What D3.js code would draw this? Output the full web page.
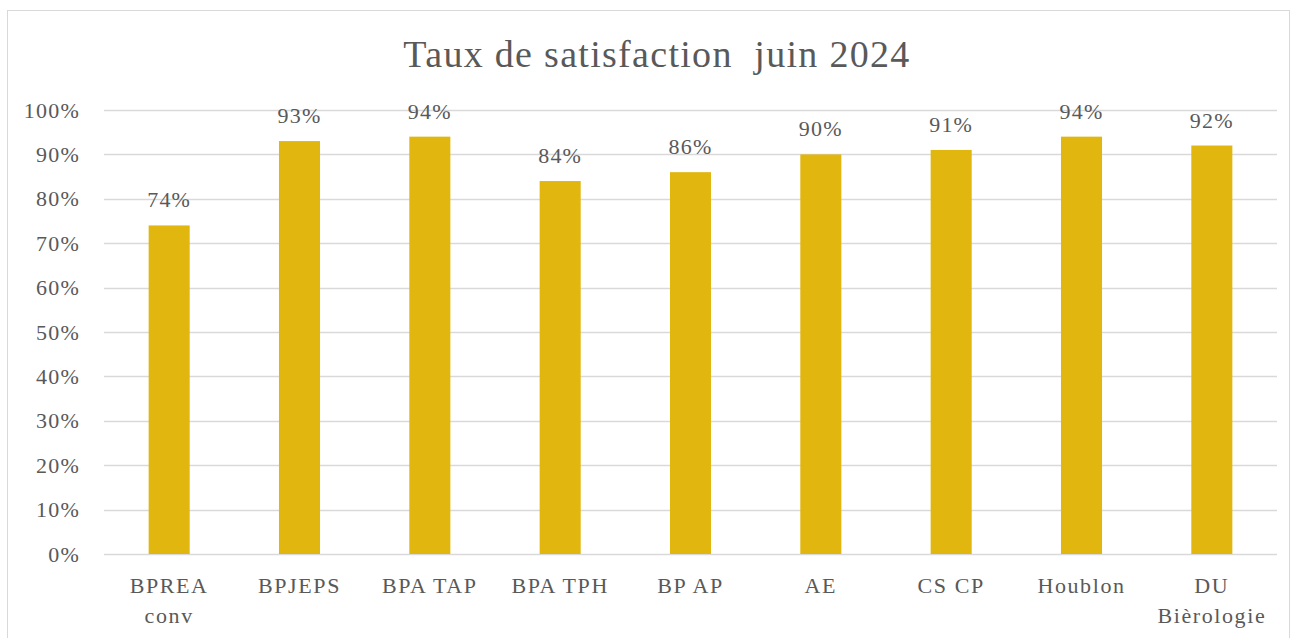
<!DOCTYPE html>
<html><head><meta charset="utf-8">
<script src="https://cdn.jsdelivr.net/npm/d3@7"></script>
<style>body{margin:0;background:#fff}svg{display:block}text{white-space:pre}</style>
</head><body>
<script>
const categories = [["BPREA","conv"],["BPJEPS"],["BPA TAP"],["BPA TPH"],["BP AP"],["AE"],["CS CP"],["Houblon"],["DU","Bièrologie"]];
const values = [0.74,0.93,0.94,0.84,0.86,0.90,0.91,0.94,0.92];
const yTicks = [0,0.1,0.2,0.3,0.4,0.5,0.6,0.7,0.8,0.9,1.0];
const title = "Taux de satisfaction  juin 2024";

const W=1293,H=638;
const font="'Liberation Serif','DejaVu Serif',serif";
const txt="#595959";
const svg=d3.select("body").append("svg").attr("width",W).attr("height",H);
svg.append("rect").attr("x",7.5).attr("y",10.5).attr("width",1282).attr("height",640).attr("fill","#fff").attr("stroke","#d9d9d9");
svg.append("text").attr("x",657).attr("y",67).attr("text-anchor","middle").attr("font-family",font).attr("font-size",38).attr("letter-spacing","1.3px").attr("fill",txt).text(title);

const x=d3.scaleBand().domain(d3.range(categories.length)).range([104,1277]).paddingInner(0.685).paddingOuter(0.3425);
const y=d3.scaleLinear().domain([0,1]).range([554,110]);

const g=svg.append("g");
g.selectAll("line.grid").data(yTicks).join("line").attr("x1",104).attr("x2",1277)
 .attr("y1",d=>Math.round(y(d))+0.5).attr("y2",d=>Math.round(y(d))+0.5).attr("stroke","#d9d9d9").attr("stroke-width",1.5);

const yAxis=d3.axisLeft(y).tickValues(yTicks).tickFormat(d3.format(".0%")).tickSize(0).tickPadding(0);
const ya=svg.append("g").attr("transform","translate(80,0)").call(yAxis);
ya.select(".domain").remove();
ya.selectAll("text").attr("font-family",font).attr("font-size",22).attr("letter-spacing","1.2px").attr("fill",txt).attr("dy","0.32em");

g.selectAll("rect.bar").data(values).join("rect").attr("x",(d,i)=>x(i)).attr("width",x.bandwidth())
 .attr("y",d=>y(d)).attr("height",d=>y(0)-y(d)).attr("fill","#e1b70f");

g.selectAll("text.lbl").data(values).join("text").attr("x",(d,i)=>x(i)+x.bandwidth()/2).attr("y",d=>y(d)-18)
 .attr("text-anchor","middle").attr("font-family",font).attr("font-size",22).attr("letter-spacing","1.2px").attr("fill",txt).text(d=>d3.format(".0%")(d));

const xl=g.selectAll("text.cat").data(categories).join("text").attr("text-anchor","middle")
 .attr("font-family",font).attr("font-size",22).attr("letter-spacing","1.6px").attr("fill",txt);
xl.each(function(d,i){
  const t=d3.select(this);
  d.forEach((s,j)=>t.append("tspan").attr("x",x(i)+x.bandwidth()/2).attr("y",593+j*30).text(s));
});
</script>
</body></html>
